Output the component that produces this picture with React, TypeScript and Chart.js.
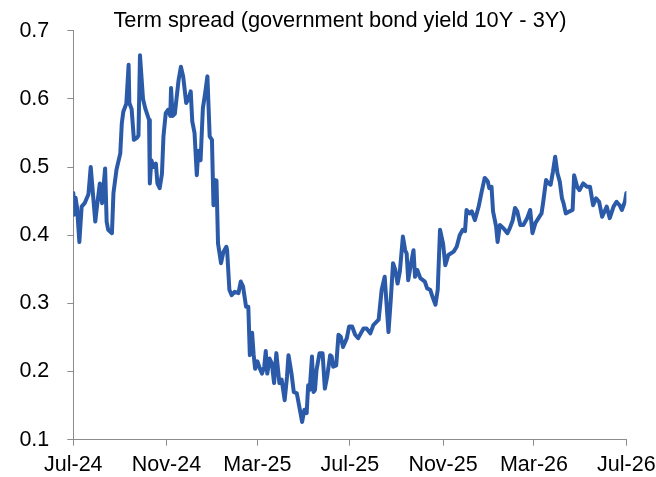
import React, { useEffect, useRef } from "react";
import { Chart, registerables } from "chart.js";

Chart.register(...registerables);

const TITLE = "Term spread (government bond yield 10Y - 3Y)";

// days since 1 Jul 2024
const days = [
  0, 1, 3, 5, 8, 11, 15, 20, 23, 26,
  29, 31, 35, 38, 42, 44, 46, 51, 53, 57,
  62, 64, 66, 70, 73, 74, 77, 80, 84, 86,
  88, 92, 95, 100, 101, 103, 106, 109, 111, 114,
  117, 119, 122, 125, 128, 129, 131, 134, 139, 142,
  145, 149, 152, 155, 157, 160, 163, 165, 168, 171,
  174, 177, 180, 183, 184, 185, 187, 189, 191, 195,
  198, 202, 203, 206, 209, 213, 218, 221, 224, 226,
  228, 231, 233, 236, 238, 240, 243, 246, 249, 252,
  254, 256, 259, 262, 265, 268, 272, 275, 279, 282,
  284, 288, 291, 295, 299, 302, 305, 308, 310, 312,
  315, 317, 319, 321, 325, 329, 332, 335, 339, 341,
  343, 347, 350, 353, 356, 361, 364, 368, 372, 376,
  383, 387, 392, 396, 403, 407, 411, 416, 419, 422,
  425, 428, 431, 435, 438, 440, 442, 445, 449, 451,
  454, 458, 464, 467, 471, 474, 478, 481, 484, 488,
  491, 495, 502, 506, 510, 514, 517, 519, 523, 526,
  530, 535, 539, 543, 547, 549, 552, 554, 558, 560,
  563, 568, 573, 576, 580, 583, 586, 590, 594, 599,
  603, 606, 610, 614, 618, 620, 624, 627, 630, 633,
  636, 639, 642, 645, 647, 650, 655, 659, 661, 665,
  668, 673, 678, 682, 686, 690, 694, 698, 702, 704,
  708, 713, 717, 721, 724, 728, 730,
];

const spread = [
  0.462, 0.43, 0.455, 0.44, 0.39, 0.442, 0.447, 0.46, 0.5, 0.46,
  0.42, 0.44, 0.476, 0.447, 0.498, 0.42, 0.408, 0.403, 0.462, 0.496,
  0.52, 0.564, 0.581, 0.593, 0.65, 0.594, 0.585, 0.54, 0.543, 0.546,
  0.664, 0.6, 0.586, 0.569, 0.476, 0.51, 0.5, 0.505, 0.476, 0.469,
  0.49, 0.545, 0.579, 0.584, 0.575, 0.616, 0.575, 0.578, 0.628, 0.647,
  0.633, 0.594, 0.6, 0.611, 0.567, 0.55, 0.488, 0.524, 0.51, 0.586,
  0.608, 0.633, 0.545, 0.54, 0.491, 0.444, 0.481, 0.48, 0.388, 0.359,
  0.375, 0.383, 0.378, 0.32, 0.312, 0.317, 0.315, 0.332, 0.325, 0.31,
  0.295, 0.295, 0.224, 0.257, 0.225, 0.204, 0.215, 0.205, 0.197, 0.207,
  0.23, 0.197, 0.219, 0.212, 0.183, 0.227, 0.183, 0.188, 0.158, 0.192,
  0.224, 0.197, 0.17, 0.168, 0.144, 0.126, 0.144, 0.139, 0.18, 0.173,
  0.222, 0.17, 0.173, 0.202, 0.227, 0.227, 0.175, 0.192, 0.224, 0.222,
  0.207, 0.209, 0.254, 0.251, 0.236, 0.249, 0.266, 0.266, 0.254, 0.249,
  0.263, 0.263, 0.256, 0.268, 0.276, 0.32, 0.339, 0.258, 0.305, 0.359,
  0.349, 0.329, 0.347, 0.398, 0.378, 0.373, 0.334, 0.354, 0.378, 0.339,
  0.349, 0.337, 0.332, 0.322, 0.32, 0.31, 0.298, 0.32, 0.408, 0.388,
  0.356, 0.371, 0.376, 0.383, 0.4, 0.408, 0.406, 0.437, 0.432, 0.435,
  0.422, 0.442, 0.464, 0.484, 0.479, 0.469, 0.471, 0.435, 0.413, 0.39,
  0.415, 0.41, 0.403, 0.41, 0.422, 0.44, 0.435, 0.415, 0.415, 0.425,
  0.437, 0.403, 0.418, 0.425, 0.432, 0.447, 0.481, 0.476, 0.474, 0.493,
  0.515, 0.491, 0.479, 0.454, 0.447, 0.432, 0.435, 0.437, 0.488, 0.471,
  0.466, 0.476, 0.471, 0.471, 0.444, 0.454, 0.449, 0.427, 0.437, 0.442,
  0.425, 0.442, 0.449, 0.444, 0.437, 0.449, 0.462,
];

// x-axis ticks: day offsets from 1 Jul 2024 and their labels
const tickDays = [0, 123, 243, 365, 488, 608, 730];
const tickLabels = ["Jul-24", "Nov-24", "Mar-25", "Jul-25", "Nov-25", "Mar-26", "Jul-26"];

const yTicks = [0.1, 0.2, 0.3, 0.4, 0.5, 0.6, 0.7];

const FONT = '"Liberation Sans", Arial, sans-serif';
const AXIS_COLOR = "#8c8c8c";
const LINE_COLOR = "#2b5aa9";

export default function App() {
  const ref = useRef<HTMLCanvasElement | null>(null);

  useEffect(() => {
    if (!ref.current) return;
    const titlePlugin = {
      id: "titleText",
      afterDraw(chart: any) {
        const ctx = chart.ctx;
        ctx.save();
        ctx.font = `21.8px ${FONT}`;
        ctx.fillStyle = "#000";
        ctx.textAlign = "center";
        ctx.textBaseline = "alphabetic";
        ctx.fillText(TITLE, 340, 27);
        ctx.restore();
      },
    };

    const chart = new Chart(ref.current, {
      type: "line",
      data: {
        datasets: [
          {
            data: days.map((d, i) => ({ x: d, y: spread[i] })),
            borderColor: LINE_COLOR,
            backgroundColor: LINE_COLOR,
            borderWidth: 4,
            pointRadius: 0,
            tension: 0,
            borderJoinStyle: "round",
            borderCapStyle: "round",
          },
        ],
      },
      options: {
        responsive: false,
        animation: false,
        devicePixelRatio: 1,
        layout: { padding: { left: 0, right: 29.6, top: 30.7, bottom: 0 } },
        plugins: {
          legend: { display: false },
          title: { display: false },
          tooltip: { enabled: false },
        },
        scales: {
          x: {
            type: "linear",
            min: 0,
            max: 730,
            afterBuildTicks(axis: any) {
              axis.ticks = tickDays.map((v) => ({ value: v }));
            },
            afterFit(axis: any) {
              axis.height = 37.3;
              axis.paddingLeft = 0;
              axis.paddingRight = 0;
            },
            ticks: {
              autoSkip: false,
              maxRotation: 0,
              minRotation: 0,
              padding: 6,
              color: "#000",
              font: { family: FONT, size: 21.5 },
              callback: (v: any) => {
                const i = tickDays.indexOf(Number(v));
                return i >= 0 ? tickLabels[i] : "";
              },
            },
            grid: {
              drawOnChartArea: false,
              drawTicks: true,
              tickLength: 6,
              color: AXIS_COLOR,
            },
            border: { display: true, color: AXIS_COLOR, width: 1 },
          },
          y: {
            min: 0.1,
            max: 0.7,
            afterBuildTicks(axis: any) {
              axis.ticks = yTicks.map((v) => ({ value: v }));
            },
            afterFit(axis: any) {
              axis.width = 73.3;
              axis.paddingTop = 0;
              axis.paddingBottom = 0;
            },
            ticks: {
              padding: 18,
              color: "#000",
              font: { family: FONT, size: 21.5 },
              callback: (v: any) => Number(v).toFixed(1),
            },
            grid: {
              drawOnChartArea: false,
              drawTicks: true,
              tickLength: 6,
              color: AXIS_COLOR,
            },
            border: { display: true, color: AXIS_COLOR, width: 1 },
          },
        },
      },
      plugins: [titlePlugin],
    } as any);
    return () => chart.destroy();
  }, []);

  return (
    <div style={{ position: "absolute", left: 0, top: 0, width: 656, height: 477 }}>
      <canvas ref={ref} width={656} height={477} style={{ display: "block" }} />
    </div>
  );
}
